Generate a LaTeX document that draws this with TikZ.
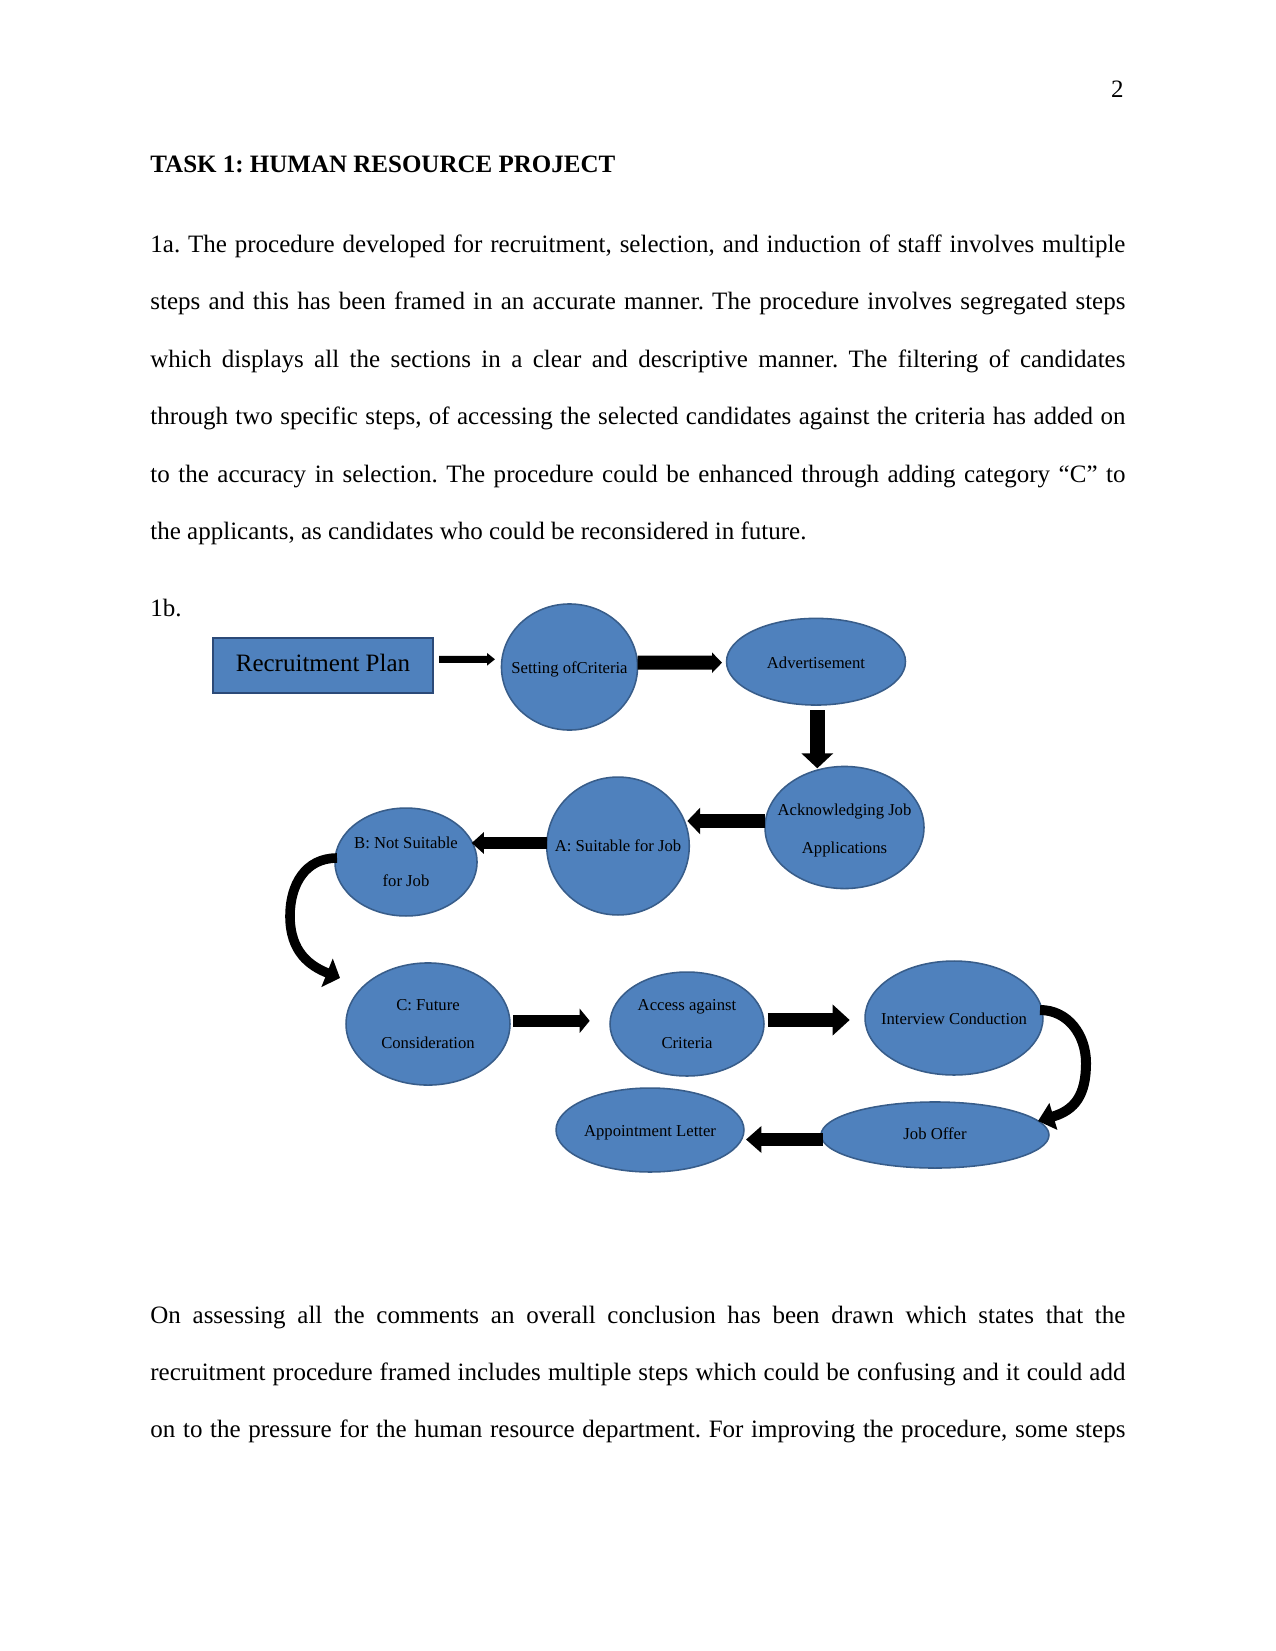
\documentclass[tikz,border=0pt]{standalone}
\usepackage{fontspec}
\setmainfont{Liberation Serif}
\usetikzlibrary{calc,shapes.geometric,arrows.meta}
\definecolor{bfill}{HTML}{4F81BD}
\definecolor{bline}{HTML}{385D8A}
\definecolor{rline}{HTML}{2C4A78}
\frenchspacing
\begin{document}
\begin{tikzpicture}[x=0.48pt,y=-0.48pt,
 bub/.style={ellipse, draw=bline, fill=bfill, line width=0.75pt, inner sep=0pt},
 lab/.style={font=\fontsize{8}{18}\selectfont, align=center, inner sep=0pt},
 body/.style={anchor=base west, inner sep=0pt, font=\fontsize{12}{14}\selectfont},
 blk/.style n args={3}{line width=#1, -{Triangle[width=#2,length=#3]}}]
\useasboundingbox[fill=white] (0,0) rectangle (1275,1651);

% page text
\node[body, anchor=base east] (pg) at (1124,98) {2};
\node[body] (title) at (150,173) {\textbf{TASK 1: HUMAN RESOURCE PROJECT}};
\node[body] (p1) at (150,252) {\makebox[468pt][s]{1a. The procedure developed for recruitment, selection, and induction of staff involves multiple}};
\node[body] (p2) at (150,309.5) {\makebox[468pt][s]{steps and this has been framed in an accurate manner. The procedure involves segregated steps}};
\node[body] (p3) at (150,367) {\makebox[468pt][s]{which displays all the sections in a clear and descriptive manner. The filtering of candidates}};
\node[body] (p4) at (150,424.5) {\makebox[468pt][s]{through two specific steps, of accessing the selected candidates against the criteria has added on}};
\node[body] (p5) at (150,482) {\makebox[468pt][s]{to the accuracy in selection. The procedure could be enhanced through adding category “C” to}};
\node[body] (p6) at (150,539.5) {the applicants, as candidates who could be reconsidered in future.};
\node[body] (p7) at (150,616) {1b.};
\node[body] (q1) at (150,1323) {\makebox[468pt][s]{On assessing all the comments an overall conclusion has been drawn which states that the}};
\node[body] (q2) at (150,1380.5) {\makebox[468pt][s]{recruitment procedure framed includes multiple steps which could be confusing and it could add}};
\node[body] (q3) at (150,1437) {\makebox[468pt][s]{on to the pressure for the human resource department. For improving the procedure, some steps}};

% diagram nodes
\node[draw=rline, fill=bfill, line width=1pt, minimum width=105.9pt, minimum height=26.4pt, inner sep=0pt, text depth=3pt, font=\fontsize{12}{14}\selectfont] (rp) at (323,665.8) {Recruitment Plan};
\node[bub, minimum width=65.3pt, minimum height=60.5pt] (set) at (569.5,667) {};
\node[bub, minimum width=85.9pt, minimum height=41.6pt] (adv) at (816,661.7) {};
\node[bub, minimum width=76.3pt, minimum height=58.6pt] (ack) at (844.5,827.5) {};
\node[bub, minimum width=68.4pt, minimum height=66.2pt] (sa) at (618,846) {};
\node[bub, minimum width=68.2pt, minimum height=51.8pt] (sb) at (406,862) {};
\node[bub, minimum width=78.7pt, minimum height=58.6pt] (sc) at (428,1024) {};
\node[bub, minimum width=73.9pt, minimum height=49.9pt] (acc) at (687,1024) {};
\node[bub, minimum width=85.4pt, minimum height=54.7pt] (int) at (954,1018) {};
\node[bub, minimum width=109.4pt, minimum height=31.7pt] (jo) at (935,1135) {};
\node[bub, minimum width=90.2pt, minimum height=40.3pt] (app) at (650,1130) {};

% labels
\node[lab] (setT) at ($(set)+(0,2)$) {Setting ofCriteria};
\node[lab] (advT) at ($(adv)+(0,1)$) {Advertisement};
\node[lab] (ackT) at ($(ack)+(0,3)$) {Acknowledging Job\\Applications};
\node[lab] (saT) at (sa) {A: Suitable for Job};
\node[lab] (sbT) at (sb) {B: Not Suitable\\for Job};
\node[lab] (scT) at (sc) {C: Future\\Consideration};
\node[lab] (accT) at (acc) {Access against\\Criteria};
\node[lab] (intT) at ($(int)+(0,1)$) {Interview Conduction};
\node[lab] (joT) at ($(jo)+(0,-1)$) {Job Offer};
\node[lab] (appT) at ($(app)+(0,3)$) {Appointment Letter};

% connectors
\draw[blk={3.4pt}{5.8pt}{3.8pt}] ($(rp)+(116,-6.5)$) -- ($(set)+(-74.5,-7.7)$);
\draw[blk={6.7pt}{9.6pt}{4.8pt}] ($(set)+(68,-4.3)$) -- ($(adv)+(-94,1)$);
\draw[blk={7.2pt}{14.9pt}{7.2pt}] ($(adv)+(1.3,48.3)$) -- ($(ack)+(-27.2,-59.2)$);
\draw[blk={6.7pt}{12.5pt}{6.2pt}] ($(ack)+(-79.5,-6.5)$) -- ($(sa)+(69.3,-25)$);
\draw[blk={5.3pt}{10pt}{5.8pt}] ($(sa)+(-71.3,-3)$) -- ($(sb)+(65.7,-19)$);
\draw[blk={4.6pt}{14.4pt}{6.7pt}] ($(sb)+(-69,-4)$) .. controls (305,858) and (290,885) .. (290,916) .. controls (290,952) and (310,966) .. ($(sc)+(-88,-46)$);
\draw[blk={5.6pt}{11.4pt}{4.8pt}] ($(sc)+(85,-3.2)$) -- ($(acc)+(-97.3,-3.2)$);
\draw[blk={6.7pt}{14.4pt}{8.2pt}] ($(acc)+(80.7,-4)$) -- ($(int)+(-104.3,2)$);
\draw[blk={4.8pt}{13pt}{7.7pt}] ($(int)+(86,-8)$) .. controls (1068,1010) and (1086,1035) .. (1086,1063) .. controls (1086,1095) and (1075,1110) .. ($(jo)+(103,-14)$);
\draw[blk={6.2pt}{12.5pt}{7.4pt}] ($(jo)+(-112,4.5)$) -- ($(app)+(96,9.5)$);
\end{tikzpicture}
\end{document}
